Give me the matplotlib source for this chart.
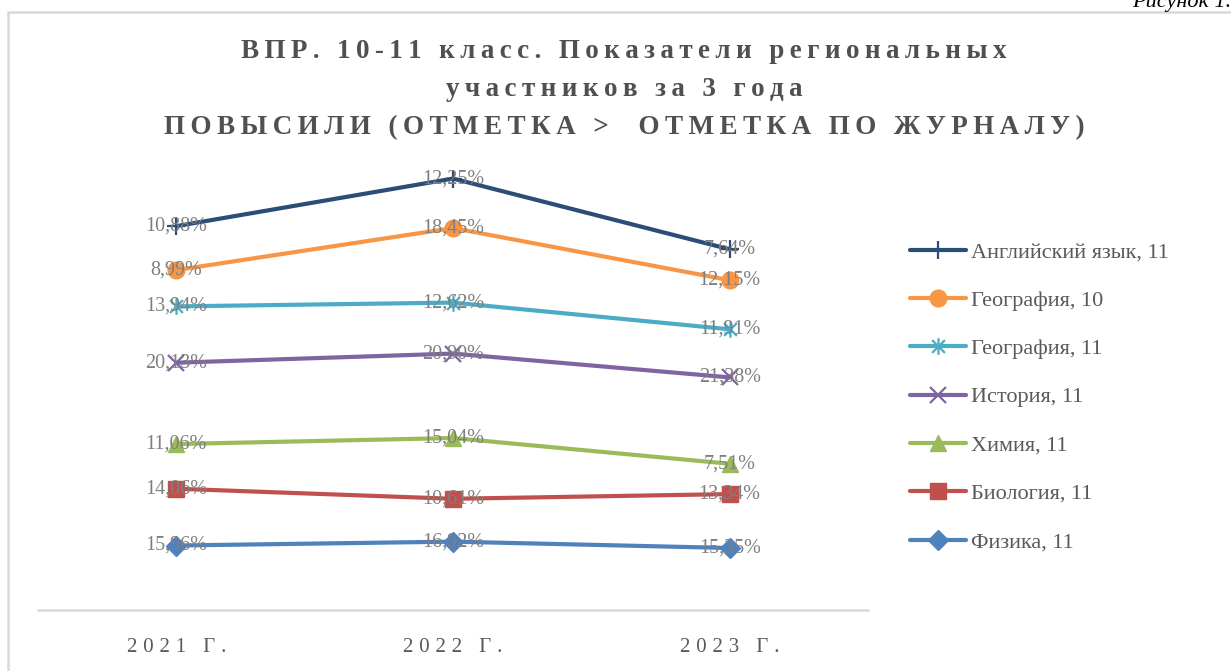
import numpy as np
import matplotlib
matplotlib.use("Agg")
import matplotlib.pyplot as plt
from matplotlib.path import Path
from matplotlib.patches import Rectangle

# данные (накопительный линейный график, подписи - собственные значения)
years = ["2021 Г.", "2022 Г.", "2023 Г."]
series_names = ["Физика, 11", "Биология, 11", "Химия, 11", "История, 11",
                "География, 11", "География, 10", "Английский язык, 11"]
fizika = [15.96, 16.92, 15.35]
biologia = [14.06, 10.61, 13.34]
himia = [11.06, 15.04, 7.51]
istoria = [20.13, 20.90, 21.38]
geo11 = [13.94, 12.62, 11.91]
geo10 = [8.99, 18.45, 12.15]
angl = [10.88, 12.25, 7.64]

values = [fizika, biologia, himia, istoria, geo11, geo10, angl]
colors = ["#4F81BD", "#C0504D", "#9BBB59", "#8064A2", "#4BACC6", "#F79646", "#2C4D75"]

# маркер "звёздочка" как в Excel: крест + вертикальная черта
star = Path([(-1, -1), (1, 1), (-1, 1), (1, -1), (0, -1.3), (0, 1.3)],
            [Path.MOVETO, Path.LINETO, Path.MOVETO, Path.LINETO, Path.MOVETO, Path.LINETO])
markers = ["D", "s", "^", "x", star, "o", "+"]
msizes = [10, 11, 11, 12, 12, 12, 13]

SERIF = ["Liberation Serif", "DejaVu Serif"]
GRAY = "#595959"


def spaced(s, sep="\u2009"):
    return sep.join(s)


fig = plt.figure(figsize=(12.31, 6.71), dpi=100)
ax = fig.add_axes([38 / 1231, 61 / 671, 830 / 1231, 444.4 / 671])

x = np.arange(len(years))
cum = np.cumsum(np.array(values), axis=0)
for i in range(len(values)):
    thin = markers[i] in ("x", "+") or markers[i] is star
    ax.plot(x, cum[i], color=colors[i], lw=3, marker=markers[i], ms=msizes[i],
            mew=1.6 if thin else 1, mec=colors[i], mfc=colors[i],
            label=series_names[i], solid_capstyle="round")
    for xi, yi, v in zip(x, cum[i], values[i]):
        ax.text(xi, yi, f"{v:.2f}%".replace(".", ","), ha="center", va="center",
                fontsize=14.5, color="#7F7F7F", family=SERIF)

ax.set_xlim(-0.5, 2.5)
ax.set_ylim(0, 110)
ax.set_yticks([])
for s in ["top", "right", "left"]:
    ax.spines[s].set_visible(False)
ax.spines["bottom"].set_color("#D9D9D9")
ax.spines["bottom"].set_linewidth(1.8)
ax.set_xticks(x)
ax.set_xticklabels([spaced(y, "\u2009\u200a") for y in years], fontsize=15, color=GRAY, family=SERIF)
ax.tick_params(axis="x", length=0, pad=20)

# легенда
h, l = ax.get_legend_handles_labels()
fig.legend(h[::-1], l[::-1], loc="center left", bbox_to_anchor=(910 / 1231, 1 - 397 / 671),
           frameon=False, borderaxespad=0, borderpad=0, handlelength=2.5, handletextpad=0.25,
           labelspacing=1.25, prop={"family": SERIF, "size": 16}, labelcolor=GRAY)

# заголовок
title_lines = ["ВПР. 10-11 класс. Показатели региональных",
               "участников за 3 года",
               "ПОВЫСИЛИ (ОТМЕТКА >  ОТМЕТКА ПО ЖУРНАЛУ)"]
for line, yy in zip(title_lines, [52, 90, 128]):
    fig.text(624 / 1231, 1 - yy / 671, spaced(line), ha="center", va="center",
             fontsize=19.5, fontweight="bold", color="#505050", family=SERIF)

# рамка диаграммы
fig.patches.append(Rectangle((8 / 1231, -0.05), 1.1, 1 - 12 / 671 + 0.05, transform=fig.transFigure,
                             fill=False, edgecolor="#D9D9D9", lw=1.8))
fig.text(1.0, 1 - 2 / 671, "Рисунок 1.", ha="right", va="center", fontsize=16,
         style="italic", color="black", family=SERIF)

fig.savefig("out.png", dpi=100)
